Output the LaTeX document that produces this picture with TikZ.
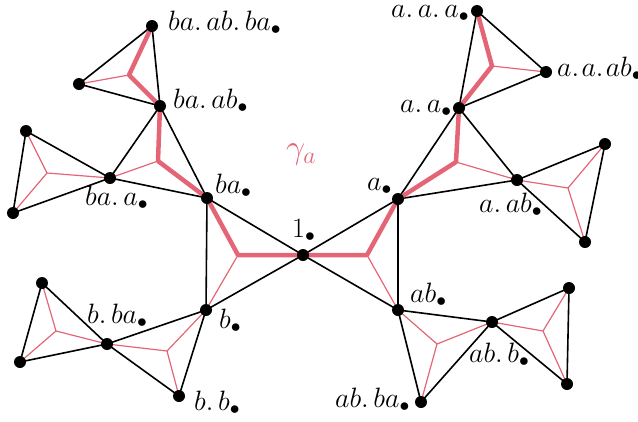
\RequirePackage{fix-cm}
\documentclass[tikz,border=0pt]{standalone}
\usepackage{amsmath}
\definecolor{gpink}{RGB}{228,102,118}
\begin{document}
\begin{tikzpicture}[x=1pt,y=-1pt,
  vtx/.style={circle,fill=black,inner sep=0pt,minimum size=12pt},
  edge/.style={line width=1.6pt,black},
  tpink/.style={line width=1.2pt,gpink},
  kpink/.style={line width=4.5pt,gpink,line join=round,line cap=round},
  lbl/.style={font=\fontsize{28}{32}\selectfont,inner sep=0pt,anchor=base west}]
\useasboundingbox (0,0) rectangle (638,421);
% vertices
\coordinate (one) at (303,255);
\coordinate (ba) at (207,198);
\coordinate (b) at (206,310);
\coordinate (a) at (398,199);
\coordinate (ab) at (398,310);
\coordinate (baab) at (160,106);
\coordinate (baa) at (110,178);
\coordinate (baabba) at (152,26);
\coordinate (t3c) at (79,84);
\coordinate (t4b) at (26,131);
\coordinate (t4c) at (13,213);
\coordinate (aa) at (459,108);
\coordinate (aaa) at (477,11);
\coordinate (aaab) at (546,72);
\coordinate (aab) at (517,180);
\coordinate (t7b) at (605,144);
\coordinate (t7c) at (585,242);
\coordinate (bba) at (107,344);
\coordinate (bb) at (179,396);
\coordinate (t9b) at (42,283);
\coordinate (t9c) at (20,362);
\coordinate (abb) at (492,322);
\coordinate (abba) at (421,402);
\coordinate (t11b) at (569,288);
\coordinate (t11c) at (567,384);
% centres
\coordinate (c0) at (238,255);
\coordinate (c1) at (367,255);
\coordinate (c2) at (158,161);
\coordinate (c3) at (129,75);
\coordinate (c4) at (47,173);
\coordinate (c5) at (456,162);
\coordinate (c6) at (492,66);
\coordinate (c7) at (568,188);
\coordinate (c8) at (167,351);
\coordinate (c9) at (56,331);
\coordinate (c10) at (437,344);
\coordinate (c11) at (543,331);
% thin pink tripods
\foreach \c/\p/\q/\r in {c0/one/ba/b, c1/one/a/ab, c2/ba/baab/baa, c3/baab/baabba/t3c,
  c4/baa/t4b/t4c, c5/a/aa/aab, c6/aa/aaa/aaab, c7/aab/t7b/t7c, c8/b/bba/bb,
  c9/bba/t9b/t9c, c10/ab/abb/abba, c11/abb/t11b/t11c}
  {\draw[tpink] (\c) -- (\p) (\c) -- (\q) (\c) -- (\r);}
% black triangles
\foreach \p/\q/\r in {one/ba/b, one/a/ab, ba/baab/baa, baab/baabba/t3c,
  baa/t4b/t4c, a/aa/aab, aa/aaa/aaab, aab/t7b/t7c, b/bba/bb,
  bba/t9b/t9c, ab/abb/abba, abb/t11b/t11c}
  {\draw[edge,line join=round] (\p) -- (\q) -- (\r) -- cycle;}
% thick path gamma_a
\draw[kpink] (baabba) -- (c3) -- (baab) -- (c2) -- (ba) -- (c0) -- (one) -- (c1) -- (a) -- (c5) -- (aa) -- (c6) -- (aaa);
% vertex dots
\foreach \v in {one,ba,b,a,ab,baab,baa,baabba,t3c,t4b,t4c,aa,aaa,aaab,aab,t7b,t7c,bba,bb,t9b,t9c,abb,abba,t11b,t11c}
  \node[vtx] (n\v) at (\v) {};
% labels
\node[lbl] (l1) at (168,30) {$ba.\,ab.\,ba_{\bullet}$};
\node[lbl] (l2) at (173,108) {$ba.\,ab_{\bullet}$};
\node[lbl] (l3) at (215,193) {$ba_{\bullet}$};
\node[lbl] (l4) at (85,205) {$ba.\,a_{\bullet}$};
\node[lbl] (l5) at (292,237) {$1_{\bullet}$};
\node[lbl] (l6) at (367,190) {$a_{\bullet}$};
\node[lbl] (l7) at (400,112) {$a.\,a_{\bullet}$};
\node[lbl] (l8) at (391,17) {$a.\,a.\,a_{\bullet}$};
\node[lbl] (l9) at (557,76) {$a.\mkern1.5mu a.\mkern1.5mu ab_{\bullet}$};
\node[lbl] (l10) at (479,212) {$a.\,ab_{\bullet}$};
\node[lbl] (l11) at (410,302) {$ab_{\bullet}$};
\node[lbl] (l12) at (469,362) {$ab.\,b_{\bullet}$};
\node[lbl] (l13) at (335,407) {$ab.\,ba_{\bullet}$};
\node[lbl] (l14) at (87,323) {$b.\,ba_{\bullet}$};
\node[lbl] (l15) at (219,328) {$b_{\bullet}$};
\node[lbl] (l16) at (194,410) {$b.\,b_{\bullet}$};
\node[lbl,text=gpink,font=\fontsize{34}{38}\selectfont] (lg) at (286,158) {$\gamma_a$};
\end{tikzpicture}
\end{document}
